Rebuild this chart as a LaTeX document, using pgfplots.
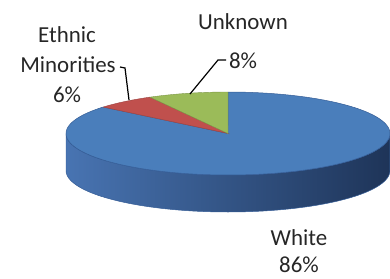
\documentclass[border=0pt]{standalone}
\usepackage{pgfplots}
\pgfplotsset{compat=1.18}
\usepackage{pgfplotstable}
\usepackage{fontspec}
\setmainfont{Carlito}
\definecolor{wblue}{RGB}{74,126,187}
\definecolor{wedge}{RGB}{52,92,150}
\definecolor{sideL}{RGB}{72,116,178}
\definecolor{sideM}{RGB}{62,102,160}
\definecolor{sideR}{RGB}{30,52,88}
\definecolor{ered}{RGB}{192,80,77}
\definecolor{ugreen}{RGB}{155,187,89}
\pgfplotstableread{
group value
White 86
Ethnic 6
Unknown 8
}\piedata
\pgfplotstablegetelem{0}{value}\of\piedata \let\vW\pgfplotsretval
\pgfplotstablegetelem{1}{value}\of\piedata \let\vE\pgfplotsretval
\pgfplotstablegetelem{2}{value}\of\piedata \let\vU\pgfplotsretval
\pgfmathsetmacro\aU{90+3.6*\vU}
\pgfmathsetmacro\aE{\aU+3.6*\vE}
\pgfmathsetmacro\aW{\aE+3.6*\vW}
\begin{document}
\begin{tikzpicture}
\begin{axis}[width=390bp,height=279bp,scale only axis,
  xmin=0,xmax=390,ymin=0,ymax=279,y dir=reverse,hide axis,clip=false]
% side of the pie
\addplot[draw=wedge, line width=0.5pt, left color=sideL, middle color=sideM, right color=sideR,
  domain=180:540, samples=181, variable=\t]
  ({228+162*cos(t)},{t<=360 ? 133.5-41.5*sin(t) : 170.5+41.5*sin(t)}) -- cycle;
% White
\addplot[fill=wblue, draw=wedge, line width=0.5pt, domain=\aE:\aW, samples=160, variable=\t]
  ({228+162*cos(t)},{133.5-41.5*sin(t)}) -- (228,133.5) -- cycle;
% Ethnic minorities
\addplot[fill=ered, draw=ered!80!black, line width=0.4pt, domain=\aU:\aE, samples=20, variable=\t]
  ({228+162*cos(t)},{133.5-41.5*sin(t)}) -- (228,133.5) -- cycle;
% Unknown
\addplot[fill=ugreen, draw=ugreen!80!black, line width=0.4pt, domain=90:\aU, samples=20, variable=\t]
  ({228+162*cos(t)},{133.5-41.5*sin(t)}) -- (228,133.5) -- cycle;
% leader lines
\addplot[black, line width=1.2pt] coordinates {(190,94) (218,60) (226,60)};
\addplot[black, line width=1.2pt] coordinates {(120,67) (125,68) (129,100)};
% labels
\begin{scope}[every node/.style={anchor=base, inner sep=0pt, text=black!85, font=\fontsize{23}{28}\selectfont}]
\node at (axis cs:67,42) {Ethnic};
\node at (axis cs:68,72) {Minorities};
\node at (axis cs:67,102) {6\%};
\node at (axis cs:243,30) {Unknown};
\node at (axis cs:243,68) {8\%};
\node at (axis cs:299,245) {White};
\node at (axis cs:299,272) {86\%};
\end{scope}
\end{axis}
\pgfresetboundingbox
\path (current axis.south west) rectangle (current axis.north east);
\end{tikzpicture}
\end{document}
